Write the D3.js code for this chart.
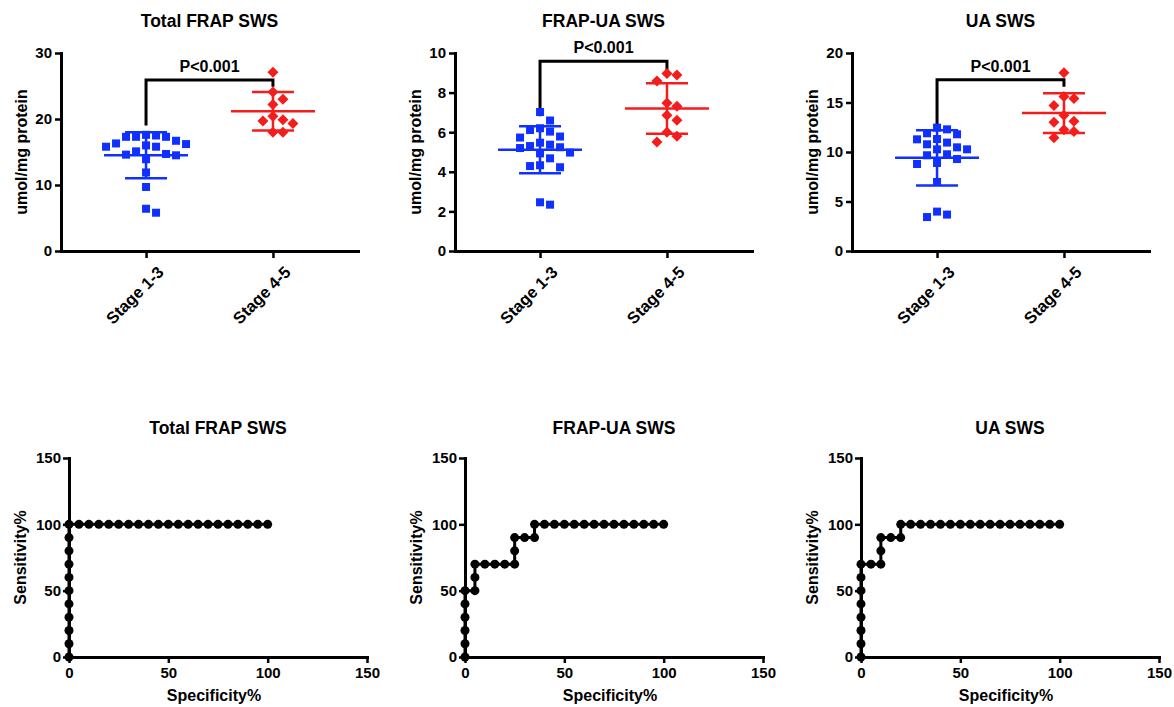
<!DOCTYPE html>
<html><head><meta charset="utf-8">
<script src="https://cdn.jsdelivr.net/npm/d3@7"></script>
<style>
body{margin:0;background:#fff}
text{font-family:"Liberation Sans",Arial,Helvetica,sans-serif;font-weight:bold;fill:#000}
</style>
</head><body>
<svg id="c" width="1174" height="707"></svg>
<script>
// ---------------- DATA ----------------
const groups = ["Stage 1-3", "Stage 4-5"];
const titles = ["Total FRAP SWS", "FRAP-UA SWS", "UA SWS"];
const yAxisLabel = "umol/mg protein";
const pLabel = "P<0.001";

const frapEarly = [17.6,17.5,17.3,17.3,17.3,16.7,16.3,16.2,16.0,15.8,15.8,15.1,14.7,14.6,14.5,13.9,11.9,9.7,6.4,5.8];
const frapLate  = [27.1,24.1,23.0,22.2,20.4,19.9,19.7,19.3,18.0,18.0];
const frapUaEarly = [7.02,6.59,6.20,6.11,6.03,5.78,5.73,5.47,5.37,5.30,5.24,5.20,4.97,4.93,4.68,4.33,4.29,4.23,2.46,2.34];
const frapUaLate  = [8.96,8.89,8.59,7.47,7.31,6.85,6.60,6.00,5.79,5.51];
const uaEarly = [12.46,12.29,11.89,11.79,11.31,11.28,10.95,10.78,10.47,10.27,10.27,9.77,9.67,9.29,8.89,8.79,6.97,3.98,3.68,3.43];
const uaLate  = [18.0,15.6,15.4,14.7,13.7,13.1,13.0,12.26,12.06,11.45];

const yMax = [30, 10, 20];
const yTicks = [[0,10,20,30],[0,2,4,6,8,10],[0,5,10,15,20]];
const bracketTop = [25.9, 9.58, 17.3];
const bracketLeftEnd = [19.0, 6.8, 12.6];
const bracketRightEnd = [24.9, 9.0, 16.6];

const rocXLabel = "Specificity%";
const rocYLabel = "Sensitivity%";
const rocTicks = [0, 50, 100, 150];
const rocFrapSpec = [0,0,0,0,0,0,0,0,0,0,0,5,10,15,20,25,30,35,40,45,50,55,60,65,70,75,80,85,90,95,100];
const rocFrapSens = [0,10,20,30,40,50,60,70,80,90,100,100,100,100,100,100,100,100,100,100,100,100,100,100,100,100,100,100,100,100,100];
const rocFrapUaSpec = [0,0,0,0,0,0,5,5,5,10,15,20,25,25,25,30,35,35,40,45,50,55,60,65,70,75,80,85,90,95,100];
const rocFrapUaSens = [0,10,20,30,40,50,50,60,70,70,70,70,70,80,90,90,90,100,100,100,100,100,100,100,100,100,100,100,100,100,100];
const rocUaSpec = [0,0,0,0,0,0,0,0,5,10,10,10,15,20,20,25,30,35,40,45,50,55,60,65,70,75,80,85,90,95,100];
const rocUaSens = [0,10,20,30,40,50,60,70,70,70,80,90,90,90,100,100,100,100,100,100,100,100,100,100,100,100,100,100,100,100,100];

const scatterSets = [[frapEarly, frapLate],[frapUaEarly, frapUaLate],[uaEarly, uaLate]];
const rocSets = [[rocFrapSpec, rocFrapSens],[rocFrapUaSpec, rocFrapUaSens],[rocUaSpec, rocUaSens]];

// ---------------- LAYOUT ----------------
const svg = d3.select("#c");
const topX = [61, 455, 852], topW = 297, topY0 = 251, topY1 = 53;
const botX = [69, 465, 861], botW = 298, botY0 = 657, botY1 = 458;
const blue = "#1030ff", red = "#f51c1c";
const AXW = 3;

function styleAxis(g){
  g.selectAll("path.domain").attr("stroke","#000").attr("stroke-width",AXW).attr("stroke-linecap","square");
  g.selectAll(".tick line").attr("stroke","#000").attr("stroke-width",2.5);
  g.selectAll(".tick text").attr("font-family","Liberation Sans, Arial, sans-serif").attr("font-weight","bold").attr("fill","#000");
}

function swarm(values, y, cx, gapX, gapY){
  const placed = [];
  values.forEach(v => {
    const py = y(v);
    let off = 0;
    for (let k = 0; k < 400; k++){
      const o = (k % 2 ? 1 : -1) * Math.ceil(k/2);
      const px = cx + o;
      if (!placed.some(q => Math.abs(q.x - px) < gapX && Math.abs(q.y - py) < gapY)) { off = o; break; }
    }
    placed.push({x: cx + off, y: py, v});
  });
  return placed;
}

// -------- Top scatter panels --------
scatterSets.forEach((sets, i) => {
  const g = svg.append("g").attr("transform", `translate(${topX[i]},0)`);
  const x = d3.scalePoint().domain(groups).range([0, topW]).padding(0.67);
  const y = d3.scaleLinear().domain([0, yMax[i]]).range([topY0, topY1]);

  const ya = g.append("g").call(d3.axisLeft(y).tickValues(yTicks[i]).tickSize(6).tickSizeOuter(0).tickPadding(3));
  styleAxis(ya);
  ya.selectAll(".tick text").attr("font-size", 15);
  const xa = g.append("g").attr("transform", `translate(0,${topY0})`)
    .call(d3.axisBottom(x).tickSize(7).tickSizeOuter(0).tickPadding(6));
  styleAxis(xa);
  xa.selectAll(".tick text").attr("font-size", 16.5)
    .attr("text-anchor","end").attr("dy","0.35em")
    .attr("transform","translate(5,9) rotate(-45)");

  g.append("text").attr("x", topW/2).attr("y", 27).attr("text-anchor","middle")
    .attr("font-size", 17.5).text(titles[i]);
  g.append("text").attr("transform", `translate(-34,${(topY0+topY1)/2}) rotate(-90)`)
    .attr("text-anchor","middle").attr("font-size", 16).text(yAxisLabel);

  // bracket
  const x1 = x(groups[0]), x2 = x(groups[1]);
  g.append("path").attr("fill","none").attr("stroke","#000").attr("stroke-width",3)
    .attr("d", `M${x1},${y(bracketLeftEnd[i])}V${y(bracketTop[i])}H${x2}V${y(bracketRightEnd[i])}`);
  g.append("text").attr("x",(x1+x2)/2).attr("y", y(bracketTop[i]) - 8)
    .attr("text-anchor","middle").attr("font-size",16).text(pLabel);

  sets.forEach((vals, j) => {
    const cx = x(groups[j]);
    const col = j === 0 ? blue : red;
    const m = d3.mean(vals), sd = d3.deviation(vals);
    const pts = swarm(vals, y, cx, 10, 10);
    if (j === 0) {
      g.selectAll(null).data(pts).join("rect")
        .attr("x", d => d.x - 4).attr("y", d => d.y - 4)
        .attr("width", 8).attr("height", 8).attr("fill", col);
    } else {
      g.selectAll(null).data(pts).join("path")
        .attr("d", d => `M${d.x},${d.y-5.5}L${d.x+5.5},${d.y}L${d.x},${d.y+5.5}L${d.x-5.5},${d.y}Z`)
        .attr("fill", col);
    }
    const s = g.append("g").attr("stroke", col).attr("stroke-width", 2.5).attr("fill","none");
    s.append("line").attr("x1", cx-42).attr("x2", cx+42).attr("y1", y(m)).attr("y2", y(m));
    s.append("line").attr("x1", cx-21).attr("x2", cx+21).attr("y1", y(m+sd)).attr("y2", y(m+sd));
    s.append("line").attr("x1", cx-21).attr("x2", cx+21).attr("y1", y(m-sd)).attr("y2", y(m-sd));
    s.append("line").attr("x1", cx).attr("x2", cx).attr("y1", y(m+sd)).attr("y2", y(m-sd));
  });
});

// -------- Bottom ROC panels --------
rocSets.forEach((set, i) => {
  const g = svg.append("g").attr("transform", `translate(${botX[i]},0)`);
  const x = d3.scaleLinear().domain([0,150]).range([0, botW]);
  const y = d3.scaleLinear().domain([0,150]).range([botY0, botY1]);

  const ya = g.append("g").call(d3.axisLeft(y).tickValues(rocTicks).tickSize(6).tickSizeOuter(0).tickPadding(2));
  styleAxis(ya);
  ya.selectAll(".tick text").attr("font-size", 15);
  const xa = g.append("g").attr("transform", `translate(0,${botY0})`)
    .call(d3.axisBottom(x).tickValues(rocTicks).tickSize(6).tickSizeOuter(0).tickPadding(4));
  styleAxis(xa);
  xa.selectAll(".tick text").attr("font-size", 15);

  g.append("text").attr("x", botW/2).attr("y", 434).attr("text-anchor","middle")
    .attr("font-size", 17.5).text(titles[i]);
  g.append("text").attr("transform", `translate(-43,${(botY0+botY1)/2}) rotate(-90)`)
    .attr("text-anchor","middle").attr("font-size", 16).text(rocYLabel);
  g.append("text").attr("x", botW/2 - 4).attr("y", 701).attr("text-anchor","middle")
    .attr("font-size", 16).text(rocXLabel);

  const pts = set[0].map((sp, k) => [sp, set[1][k]]);
  g.append("path").datum(pts).attr("fill","none").attr("stroke","#000").attr("stroke-width",3)
    .attr("d", d3.line().x(d => x(d[0])).y(d => y(d[1])));
  g.selectAll(null).data(pts).join("circle")
    .attr("cx", d => x(d[0])).attr("cy", d => y(d[1])).attr("r", 4.5).attr("fill","#000");
});
</script>
</body></html>
